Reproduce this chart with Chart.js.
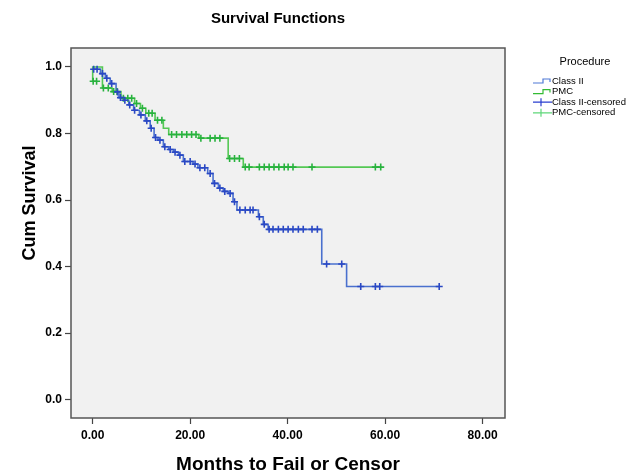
<!DOCTYPE html>
<html lang="en">
<head>
  <meta charset="UTF-8" />
  <title>Survival Functions</title>
  <script src="https://cdn.jsdelivr.net/npm/chart.js@4"></script>
  <style>
    html, body { margin: 0; padding: 0; background: #fff; }
    canvas { display: block; }
  </style>
</head>
<body>
  <canvas id="km" width="629" height="476"></canvas>

  <script>
    // axis ticks
    const xTicks = [0, 20, 40, 60, 80];
    const yTicks = [0, 0.2, 0.4, 0.6, 0.8, 1.0];

    // Class II step curve (event time, survival after the step)
    const classIITimes = [0, 1.6, 2.6, 3.6, 4.8, 5.4, 6.4, 7.4, 8.4, 9.6, 10.8, 11.8, 12.6, 13.4, 14.5, 15.6, 16.6, 17.6,
      18.6, 20.6, 21.6, 23.6, 24.7, 25.8, 26.8, 27.9, 28.8, 29.6, 34.0, 35.0, 36.0, 47.0, 52.1, 71.1];
    const classIISurv = [0.993, 0.98, 0.966, 0.95, 0.925, 0.908, 0.9, 0.886, 0.87, 0.856, 0.838, 0.816, 0.788, 0.78, 0.76, 0.752, 0.744, 0.735,
      0.716, 0.708, 0.697, 0.68, 0.65, 0.636, 0.626, 0.62, 0.595, 0.57, 0.55, 0.527, 0.512, 0.408, 0.34, 0.34];

    // Class II censored cases
    const classIICensTimes = [0.2, 0.9, 2.0, 2.9, 3.9, 5.1, 5.7, 6.6, 7.6, 8.6, 9.9, 11.1, 12.0, 12.9, 13.8, 14.8, 15.9, 16.9,
      17.9, 18.9, 20.0, 21.0, 22.0, 23.0, 24.1, 25.0, 26.1, 27.1, 28.2, 29.1, 30.2, 31.3, 32.3, 32.9, 34.2, 35.2,
      36.2, 37.0, 38.1, 39.1, 40.1, 41.1, 42.2, 43.2, 45.0, 46.1, 48.0, 51.1, 55.0, 58.0, 58.9, 71.1];
    const classIICensSurv = [0.993, 0.993, 0.98, 0.966, 0.95, 0.925, 0.908, 0.9, 0.886, 0.87, 0.856, 0.838, 0.816, 0.788, 0.78, 0.76, 0.752, 0.744,
      0.735, 0.716, 0.716, 0.708, 0.697, 0.697, 0.68, 0.65, 0.636, 0.626, 0.62, 0.595, 0.57, 0.57, 0.57, 0.57, 0.55, 0.527,
      0.512, 0.512, 0.512, 0.512, 0.512, 0.512, 0.512, 0.512, 0.512, 0.512, 0.408, 0.408, 0.34, 0.34, 0.34, 0.34];

    // PMC step curve
    const pmcTimes = [0, 0, 2.0, 4.0, 5.8, 8.6, 9.8, 10.9, 12.8, 14.5, 15.6, 21.8, 27.8, 30.9, 59.3];
    const pmcSurv = [0.957, 1.0, 0.937, 0.926, 0.906, 0.89, 0.876, 0.861, 0.84, 0.816, 0.797, 0.786, 0.725, 0.699, 0.699];

    // PMC censored cases
    const pmcCensTimes = [0.1, 0.8, 2.2, 3.2, 4.3, 5.0, 6.3, 7.2, 8.0, 9.0, 10.2, 11.5, 12.2, 13.3, 14.2, 16.2, 17.2, 18.3,
      19.3, 20.3, 21.2, 22.2, 24.1, 25.1, 26.1, 28.1, 29.1, 30.1, 31.3, 32.1, 34.2, 35.2, 36.2, 37.2, 38.2, 39.3,
      40.1, 41.1, 45.0, 58.0, 59.1];
    const pmcCensSurv = [0.957, 0.957, 0.937, 0.937, 0.926, 0.926, 0.906, 0.906, 0.906, 0.89, 0.876, 0.861, 0.861, 0.84, 0.84, 0.797, 0.797, 0.797,
      0.797, 0.797, 0.797, 0.786, 0.786, 0.786, 0.786, 0.725, 0.725, 0.725, 0.699, 0.699, 0.699, 0.699, 0.699, 0.699, 0.699, 0.699,
      0.699, 0.699, 0.699, 0.699, 0.699];

    const BLUE = 'rgb(74,112,206)';
    const BLUE_C = 'rgb(42,72,196)';
    const GREEN = 'rgb(84,200,84)';
    const GREEN_C = 'rgb(40,178,62)';
    const FONT = '"Liberation Sans", Arial, sans-serif';

    const pts = (xs, ys) => xs.map((x, i) => ({x, y: ys[i]}));

    const legendItems = [
      {label: 'Class II', color: 'rgb(79,121,214)', kind: 'step'},
      {label: 'PMC', color: 'rgb(51,187,51)', kind: 'step'},
      {label: 'Class II-censored', color: 'rgb(42,63,207)', kind: 'cross'},
      {label: 'PMC-censored', color: 'rgb(95,216,122)', kind: 'cross'}
    ];

    // plot background, frame, y title and the SPSS-like legend
    const decor = {
      id: 'decor',
      beforeDraw(chart) {
        const {ctx, chartArea: a} = chart;
        ctx.save();
        ctx.fillStyle = '#fff';
        ctx.fillRect(0, 0, chart.width, chart.height);
        ctx.fillStyle = '#f1f1f1';
        ctx.fillRect(a.left, a.top, a.right - a.left, a.bottom - a.top);
        ctx.restore();
      },
      afterDraw(chart) {
        const {ctx, chartArea: a} = chart;
        ctx.save();
        ctx.strokeStyle = '#555';
        ctx.lineWidth = 1.5;
        ctx.strokeRect(a.left, a.top, a.right - a.left, a.bottom - a.top);

        // y axis title
        ctx.fillStyle = '#000';
        ctx.font = 'bold 18px ' + FONT;
        ctx.textAlign = 'center';
        ctx.textBaseline = 'middle';
        ctx.translate(30, 203);
        ctx.rotate(-Math.PI / 2);
        ctx.fillText('Cum Survival', 0, 0);
        ctx.restore();

        // legend
        ctx.save();
        ctx.fillStyle = '#000';
        ctx.font = '11px ' + FONT;
        ctx.textAlign = 'center';
        ctx.textBaseline = 'middle';
        ctx.fillText('Procedure', 585, 62);
        ctx.font = '9.5px ' + FONT;
        ctx.textAlign = 'left';
        legendItems.forEach((it, i) => {
          const y = 81 + i * 10.6;
          ctx.strokeStyle = it.color;
          ctx.lineWidth = 1.2;
          ctx.beginPath();
          if (it.kind === 'step') {
            ctx.moveTo(533, y + 2);
            ctx.lineTo(543, y + 2);
            ctx.lineTo(543, y - 2);
            ctx.lineTo(550, y - 2);
            ctx.lineTo(550, y + 1);
          } else {
            ctx.moveTo(533, y);
            ctx.lineTo(552, y);
            ctx.moveTo(541, y - 4);
            ctx.lineTo(541, y + 4);
          }
          ctx.stroke();
          ctx.fillStyle = '#000';
          ctx.fillText(it.label, 552, y);
        });
        ctx.restore();
      }
    };

    const tickFont = {family: FONT, size: 12, weight: 'bold'};

    new Chart(document.getElementById('km'), {
      type: 'scatter',
      data: {
        datasets: [
          {label: 'Class II', data: pts(classIITimes, classIISurv), showLine: true, stepped: 'before',
            borderColor: BLUE, borderWidth: 1.6, pointRadius: 0, order: 1},
          {label: 'PMC', data: pts(pmcTimes, pmcSurv), showLine: true, stepped: 'before',
            borderColor: GREEN, borderWidth: 1.6, pointRadius: 0, order: 1},
          {label: 'Class II-censored', data: pts(classIICensTimes, classIICensSurv), showLine: false,
            pointStyle: 'cross', pointRadius: 3.5, pointBorderWidth: 1.6, borderColor: BLUE_C, backgroundColor: BLUE_C, order: 0},
          {label: 'PMC-censored', data: pts(pmcCensTimes, pmcCensSurv), showLine: false,
            pointStyle: 'cross', pointRadius: 3.5, pointBorderWidth: 1.6, borderColor: GREEN_C, backgroundColor: GREEN_C, order: 0}
        ]
      },
      options: {
        responsive: false,
        animation: false,
        layout: {padding: {left: 0, right: 73, top: 0, bottom: 0}},
        plugins: {
          legend: {display: false},
          tooltip: {enabled: false},
          title: {
            display: true,
            text: 'Survival Functions',
            color: '#000',
            font: {family: FONT, size: 15, weight: 'bold'},
            padding: {top: 10, bottom: 20}
          }
        },
        scales: {
          x: {
            type: 'linear',
            min: -4.45,
            max: 84.6,
            afterBuildTicks: s => { s.ticks = xTicks.map(v => ({value: v})); },
            afterFit: s => { s.height = 58; },
            border: {display: false},
            grid: {drawOnChartArea: false, drawTicks: true, tickLength: 6, tickColor: '#444', tickWidth: 1.2},
            ticks: {color: '#000', font: tickFont, padding: 4, maxRotation: 0, callback: v => v.toFixed(2)},
            title: {display: true, text: 'Months to Fail or Censor', color: '#000',
              font: {family: FONT, size: 19, weight: 'bold'}, padding: {top: 0, bottom: 0}}
          },
          y: {
            type: 'linear',
            min: -0.055,
            max: 1.057,
            afterBuildTicks: s => { s.ticks = yTicks.map(v => ({value: v})); },
            afterFit: s => { s.width = 71; },
            border: {display: false},
            grid: {drawOnChartArea: false, drawTicks: true, tickLength: 6, tickColor: '#444', tickWidth: 1.2},
            ticks: {color: '#000', font: tickFont, padding: 3, callback: v => v.toFixed(1)}
          },
          yRight: {
            type: 'linear',
            position: 'right',
            display: true,
            afterFit: s => { s.width = 51; },
            border: {display: false},
            grid: {display: false},
            ticks: {display: false}
          }
        }
      },
      plugins: [decor]
    });
  </script>
</body>
</html>
